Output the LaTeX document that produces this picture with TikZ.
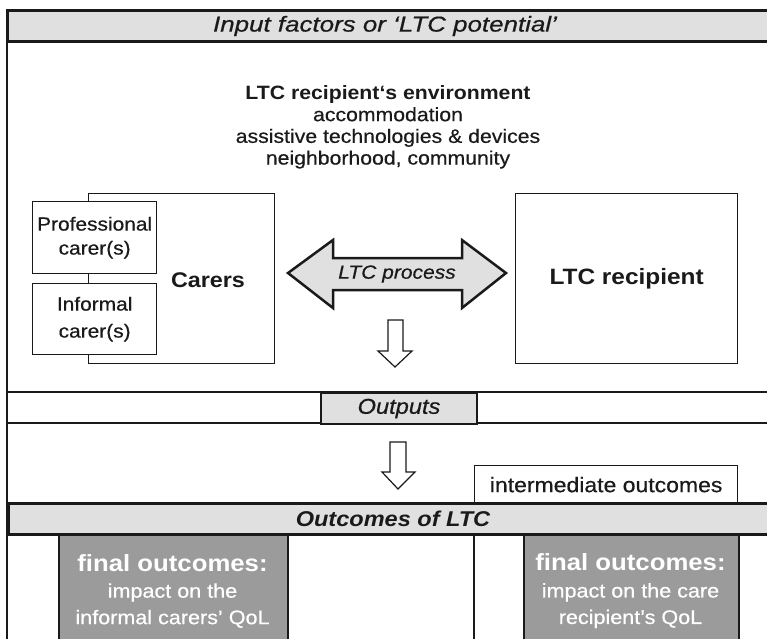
\documentclass[tikz,border=0pt]{standalone}
\usepackage{fontspec}
\setmainfont{Liberation Sans}[FakeStretch=1.1, UprightFeatures={FakeBold=0.5}, ItalicFeatures={FakeBold=0.5}]
\newfontfamily\widefont{Liberation Sans}[FakeStretch=1.2, ItalicFeatures={FakeBold=0.5}]
\definecolor{ink}{HTML}{1A1A1A}
\definecolor{lgray}{HTML}{E0E0E0}
\definecolor{mgray}{HTML}{9B9B9B}
\tikzset{
  thinline/.style={draw=ink, line width=1.3pt},
  thickband/.style={draw=ink, line width=3pt, fill=lgray},
  wbox/.style={draw=ink, line width=1.3pt, fill=white, inner sep=0pt, anchor=north west},
  gbox/.style={draw=ink, line width=1.5pt, fill=mgray, inner sep=0pt, anchor=north west},
  txt/.style={inner sep=0pt, align=center, text=ink},
  wtxt/.style={inner sep=0pt, align=center, text=white},
  hollowarrow/.style={draw=ink, line width=1.2pt, fill=white, line join=miter},
  bigarrow/.style={draw=ink, line width=2.5pt, fill=lgray, line join=miter},
}
\newcommand{\fs}[2]{\fontsize{#1}{#2}\selectfont}
\begin{document}
\begin{tikzpicture}[x=1pt, y=-1pt]
\useasboundingbox (0,0) rectangle (767,638);
% frame
\draw[thinline] (7,41) -- (7,645);
\draw[thinline] (7,392) -- (780,392);
\draw[thinline] (7,423) -- (780,423);
% header band
\path[thickband] (7.5,10.5) rectangle (780,41.5);
\node[txt, font=\widefont\fs{21.6}{25}\itshape] (hdr) at (385,26) {Input factors or ‘LTC potential’};
% environment text
\node[txt, font=\fs{19.3}{21.7}] (env) at (388,127)
  {\textbf{LTC recipient‘s environment}\\accommodation\\assistive technologies \& devices\\neighborhood, community};
% carers
\node[wbox, minimum width=186pt, minimum height=170pt] (carers) at (88,193) {};
\node[txt, font=\fs{21.2}{24}\bfseries] (carerslbl) at (208,280) {Carers};
\node[wbox, minimum width=124pt, minimum height=72pt, font=\fs{19}{24}, align=center, text=ink] (prof) at (32,201) {Professional\\carer(s)};
\node[wbox, minimum width=124pt, minimum height=71pt, font=\fs{19}{27}, align=center, text=ink] (inf) at (32,283) {Informal\\carer(s)};
% recipient
\node[wbox, minimum width=222pt, minimum height=170pt, font=\fs{22.2}{25}\bfseries, text=ink] (recip) at (515,193) {LTC recipient};
% double arrow
\path[bigarrow] (288,273) -- (333,240) -- (333,258) -- (462,258) -- (462,240) -- (506,273)
  -- (462,308) -- (462,290) -- (333,290) -- (333,308) -- cycle;
\node[txt, font=\fs{19.1}{22}\itshape] (proc) at (397,274) {LTC process};
% down arrow 1
\path[hollowarrow] (388,320) -- (403,320) -- (403,351) -- (412,351) -- (395,367) -- (378,351) -- (388,351) -- cycle;
% outputs
\node[gbox, fill=lgray, line width=2pt, minimum width=156pt, minimum height=31pt, font=\fs{21.5}{23}\itshape, text=ink] (outputs) at (320,392) {Outputs};
% down arrow 2
\path[hollowarrow] (390,442) -- (406,442) -- (406,472) -- (415,472) -- (398,489) -- (382,472) -- (390,472) -- cycle;
% intermediate outcomes
\draw[thinline] (474,534) -- (474,645);
\node[wbox, minimum width=263pt, minimum height=38pt, font=\fs{20.9}{23}, text=ink] (inter) at (474,465) {intermediate outcomes};
% outcomes band
\path[thickband] (8.5,503) rectangle (780,534);
\node[txt, font=\fs{21.4}{24}\bfseries\itshape] (outc) at (393,518.5) {Outcomes of LTC};
% final outcomes boxes
\node[gbox, minimum width=229pt, minimum height=115pt] (finL) at (58,534) {};
\node[wtxt, font=\fs{19.6}{26.5}] (finLt) at (172.5,591) {{\fs{23.4}{26.5}\bfseries final outcomes:}\\impact on the\\informal carers’ QoL};
\node[gbox, minimum width=215pt, minimum height=115pt] (finR) at (523,534) {};
\node[wtxt, font=\fs{19.6}{26.5}] (finRt) at (630.5,591) {{\fs{23.4}{26.5}\bfseries final outcomes:}\\impact on the care\\recipient’s QoL};
\end{tikzpicture}
\end{document}
